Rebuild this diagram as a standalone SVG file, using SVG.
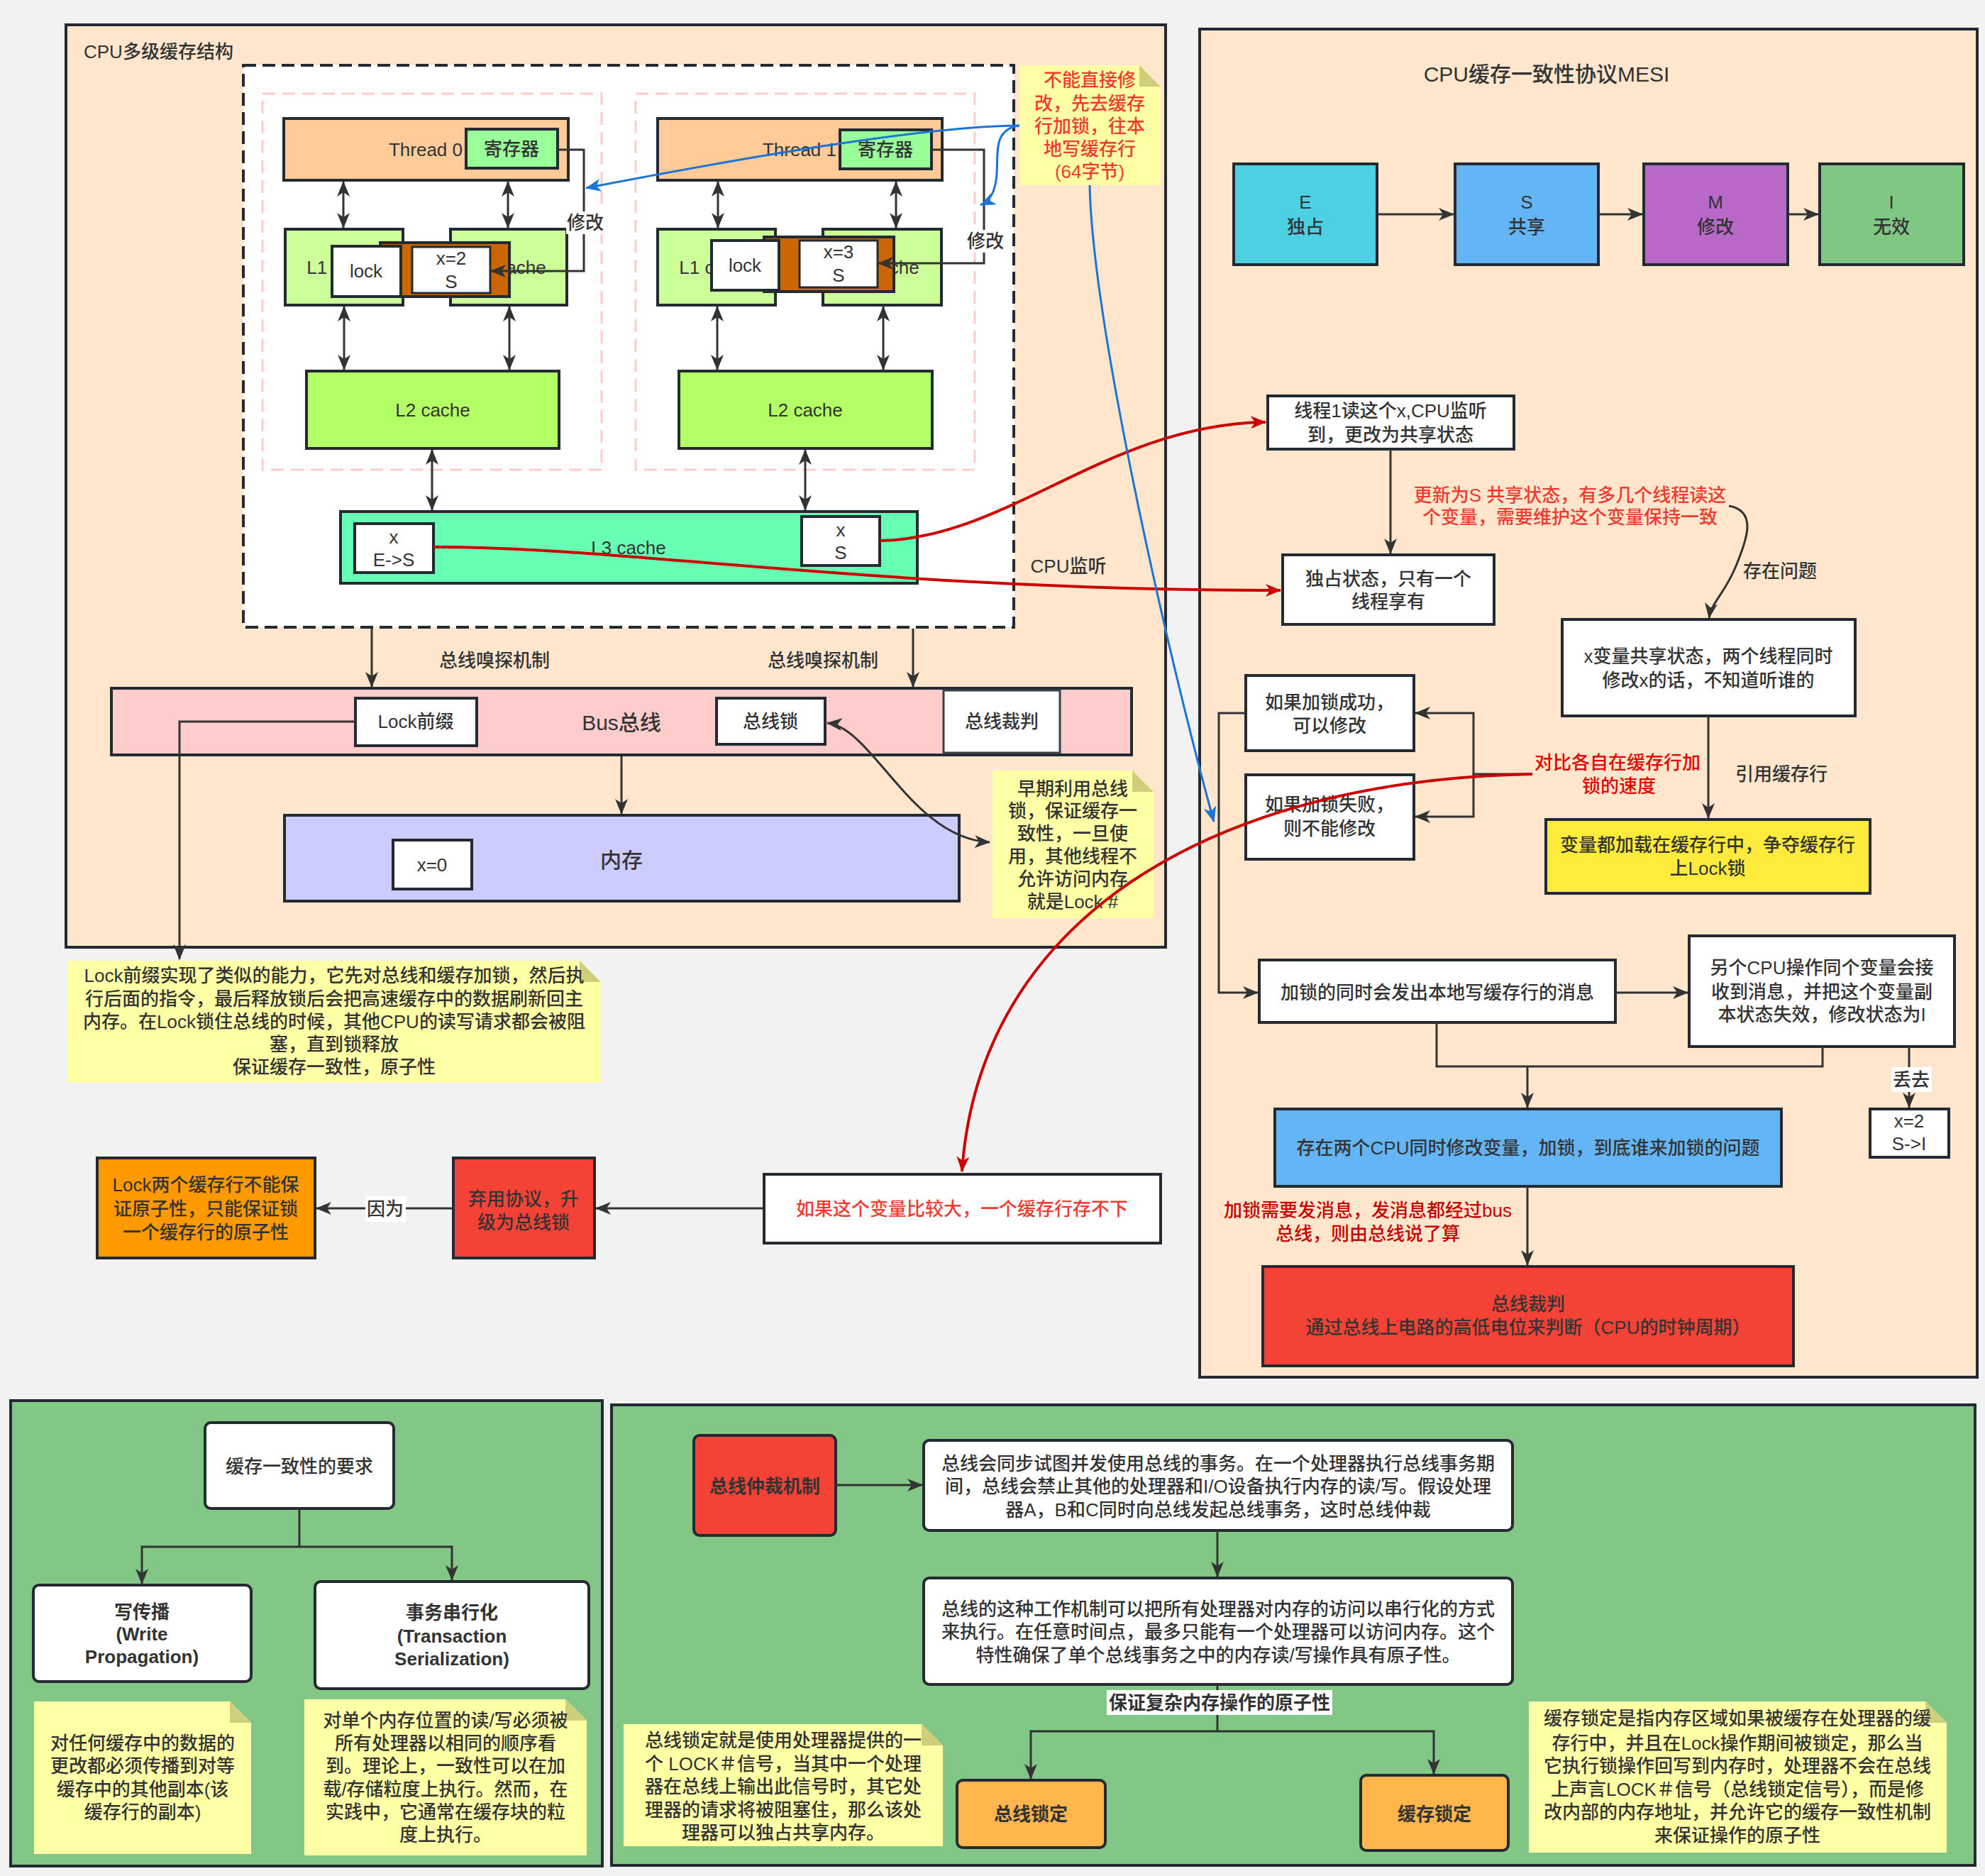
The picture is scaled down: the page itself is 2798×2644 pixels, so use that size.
<svg xmlns="http://www.w3.org/2000/svg" width="2798" height="2644" viewBox="0 0 2798 2644">
<defs>
<style>
.b{stroke:#232a31;stroke-width:4}
.t{font-family:'Liberation Sans','Noto Sans CJK SC',sans-serif;font-size:26px;font-weight:500;fill:#333;text-anchor:middle;dominant-baseline:central}
.big{font-size:30px}
.bold{font-weight:700}
.red{fill:#f23a30}
.dred{fill:#c80000}
.c{fill:none;stroke:#333;stroke-width:3}
.cr{fill:none;stroke:#cc0000;stroke-width:4}
.cb{fill:none;stroke:#1b74d6;stroke-width:3}
.note{fill:#ffffa6}
.fold{fill:#cfcf7b}
.w{fill:#fff}
</style>
<marker id="a" viewBox="0 0 22 18" refX="21" refY="9" markerWidth="22" markerHeight="18" markerUnits="userSpaceOnUse" orient="auto-start-reverse"><path d="M0,0 L22,9 L0,18 L6,9 Z" fill="#333"/></marker>
<marker id="ar" viewBox="0 0 22 18" refX="21" refY="9" markerWidth="22" markerHeight="18" markerUnits="userSpaceOnUse" orient="auto-start-reverse"><path d="M0,0 L22,9 L0,18 L6,9 Z" fill="#cc0000"/></marker>
<marker id="ab" viewBox="0 0 22 18" refX="21" refY="9" markerWidth="22" markerHeight="18" markerUnits="userSpaceOnUse" orient="auto-start-reverse"><path d="M0,0 L22,9 L0,18 L6,9 Z" fill="#1b74d6"/></marker>
</defs>
<rect x="0" y="0" width="2798" height="2644" fill="#f2f2f2"/>

<!-- containers -->
<g id="panel-cpu-cache">
<rect class="b" x="93" y="35" width="1550" height="1300" fill="#ffe6cc"/>
<text class="t" x="118" y="73" style="text-anchor:start">CPU多级缓存结构</text>
<rect x="343" y="92" width="1086" height="792" fill="#fff" stroke="#232a31" stroke-width="4" stroke-dasharray="18 9"/>
<rect x="370" y="132" width="478" height="530" fill="none" stroke="#ffcccc" stroke-width="3" stroke-dasharray="18 10"/>
<rect x="896" y="132" width="478" height="530" fill="none" stroke="#ffcccc" stroke-width="3" stroke-dasharray="18 10"/>
</g>
<g id="panel-mesi">
<rect class="b" x="1691" y="41" width="1096" height="1900" fill="#ffe6cc"/>
<text class="t big" x="2180" y="104">CPU缓存一致性协议MESI</text>
</g>
<g id="panel-requirements">
<rect class="b" x="15" y="1974" width="834" height="656" fill="#82c785"/>
</g>
<g id="panel-arbitration">
<rect class="b" x="862" y="1980" width="1922" height="649" fill="#82c785"/>
</g>

<!-- thread 0 -->
<g id="thread0">
<rect class="b" x="400" y="167" width="401" height="87" fill="#ffcc99"/>
<text class="t" x="600" y="211">Thread 0</text>
<rect class="b" x="657" y="182" width="129" height="55" fill="#99ff99"/>
<text class="t" x="721" y="210">寄存器</text>
</g>
<g id="l1-0">
<rect class="b" x="402" y="323" width="166" height="107" fill="#ccff99"/>
<text class="t" x="485" y="377">L1 cache</text>
<rect class="b" x="635" y="323" width="164" height="107" fill="#ccff99"/>
<text class="t" x="717" y="377">L1 cache</text>
<rect class="b" x="536" y="342" width="182" height="76" fill="#cc6600"/>
<rect x="581" y="348" width="110" height="65" fill="#fff" stroke="#232a31" stroke-width="3"/>
<text class="t" x="636" y="364">x=2</text>
<text class="t" x="636" y="397">S</text>
<rect class="b" x="468" y="347" width="97" height="71" fill="#fff"/>
<text class="t" x="516" y="382">lock</text>
</g>
<g id="l2-0">
<rect class="b" x="432" y="523" width="356" height="109" fill="#b3ff66"/>
<text class="t" x="610" y="578">L2 cache</text>
</g>

<!-- thread 1 -->
<g id="thread1">
<rect class="b" x="927" y="167" width="401" height="87" fill="#ffcc99"/>
<text class="t" x="1127" y="211">Thread 1</text>
<rect class="b" x="1184" y="183" width="129" height="55" fill="#99ff99"/>
<text class="t" x="1248" y="211">寄存器</text>
</g>
<g id="l1-1">
<rect class="b" x="927" y="323" width="166" height="107" fill="#ccff99"/>
<text class="t" x="1010" y="377">L1 cache</text>
<rect class="b" x="1160" y="323" width="167" height="107" fill="#ccff99"/>
<text class="t" x="1243" y="377">L1 cache</text>
<rect class="b" x="1077" y="334" width="183" height="77" fill="#cc6600"/>
<rect x="1127" y="339" width="110" height="66" fill="#fff" stroke="#232a31" stroke-width="3"/>
<text class="t" x="1182" y="355">x=3</text>
<text class="t" x="1182" y="388">S</text>
<rect class="b" x="1003" y="339" width="95" height="70" fill="#fff"/>
<text class="t" x="1050" y="374">lock</text>
</g>
<g id="l2-1">
<rect class="b" x="957" y="523" width="357" height="109" fill="#b3ff66"/>
<text class="t" x="1135" y="578">L2 cache</text>
</g>

<g id="l3">
<rect class="b" x="480" y="721" width="813" height="101" fill="#66ffb3"/>
<text class="t" x="886" y="772">L3 cache</text>
<rect class="b" x="500" y="738" width="111" height="69" fill="#fff"/>
<text class="t" x="555" y="757">x</text>
<text class="t" x="555" y="789">E-&gt;S</text>
<rect class="b" x="1130" y="728" width="110" height="69" fill="#fff"/>
<text class="t" x="1185" y="747">x</text>
<text class="t" x="1185" y="779">S</text>
</g>

<g id="bus">
<rect class="b" x="157" y="970" width="1438" height="94" fill="#ffcccc"/>
<text class="t big" x="876" y="1018">Bus总线</text>
<rect class="b" x="501" y="984" width="171" height="67" fill="#fff"/>
<text class="t" x="586" y="1017">Lock前缀</text>
<rect class="b" x="1010" y="984" width="153" height="65" fill="#fff"/>
<text class="t" x="1086" y="1017">总线锁</text>
<rect x="1330" y="973" width="164" height="88" fill="#fff" stroke="#3a4048" stroke-width="3"/>
<text class="t" x="1412" y="1017">总线裁判</text>
</g>
<g id="memory">
<rect class="b" x="401" y="1149" width="951" height="121" fill="#ccccff"/>
<text class="t big" x="876" y="1212">内存</text>
<rect class="b" x="554" y="1184" width="111" height="69" fill="#fff"/>
<text class="t" x="609" y="1219">x=0</text>
</g>

<g id="note-no-direct">
<path class="note" d="M1437,92 H1606 L1636,122 V261 H1437 Z"/>
<path class="fold" d="M1606,92 V122 H1636 Z"/>
<text class="t red" x="1536" y="113">不能直接修</text>
<text class="t red" x="1536" y="146">改，先去缓存</text>
<text class="t red" x="1536" y="178">行加锁，往本</text>
<text class="t red" x="1536" y="210">地写缓存行</text>
<text class="t red" x="1536" y="242">(64字节)</text>
</g>
<g id="note-early-bus-lock">
<path class="note" d="M1399,1086 H1596 L1626,1116 V1294 H1399 Z"/>
<path class="fold" d="M1596,1086 V1116 H1626 Z"/>
<text class="t" x="1512" y="1112">早期利用总线</text>
<text class="t" x="1512" y="1143">锁，保证缓存一</text>
<text class="t" x="1512" y="1175">致性，一旦使</text>
<text class="t" x="1512" y="1207">用，其他线程不</text>
<text class="t" x="1512" y="1239">允许访问内存</text>
<text class="t" x="1512" y="1271">就是Lock #</text>
</g>
<g id="note-lock-prefix">
<path class="note" d="M95,1354 H817 L847,1384 V1526 H95 Z"/>
<path class="fold" d="M817,1354 V1384 H847 Z"/>
<text class="t" x="471" y="1375">Lock前缀实现了类似的能力，它先对总线和缓存加锁，然后执</text>
<text class="t" x="471" y="1408">行后面的指令，最后释放锁后会把高速缓存中的数据刷新回主</text>
<text class="t" x="471" y="1440">内存。在Lock锁住总线的时候，其他CPU的读写请求都会被阻</text>
<text class="t" x="471" y="1472">塞，直到锁释放</text>
<text class="t" x="471" y="1504">保证缓存一致性，原子性</text>
</g>

<g id="lock-two-lines">
<rect class="b" x="137" y="1632" width="307" height="141" fill="#ff9900"/>
<text class="t" x="290" y="1670">Lock两个缓存行不能保</text>
<text class="t" x="290" y="1704">证原子性，只能保证锁</text>
<text class="t" x="290" y="1737">一个缓存行的原子性</text>
</g>
<g id="abandon-protocol">
<rect class="b" x="639" y="1632" width="199" height="141" fill="#f44336"/>
<text class="t" x="738" y="1690">弃用协议，升</text>
<text class="t" x="738" y="1723">级为总线锁</text>
</g>
<g id="too-large">
<rect class="b" x="1077" y="1655" width="559" height="97" fill="#fff"/>
<text class="t red" x="1356" y="1704">如果这个变量比较大，一个缓存行存不下</text>
</g>

<!-- MESI -->
<g id="mesi-e"><rect class="b" x="1739" y="231" width="202" height="142" fill="#4dd0e1"/><text class="t" x="1840" y="285">E</text><text class="t" x="1840" y="320">独占</text></g>
<g id="mesi-s"><rect class="b" x="2051" y="231" width="202" height="142" fill="#64b5f6"/><text class="t" x="2152" y="285">S</text><text class="t" x="2152" y="320">共享</text></g>
<g id="mesi-m"><rect class="b" x="2317" y="231" width="203" height="142" fill="#ba68c8"/><text class="t" x="2418" y="285">M</text><text class="t" x="2418" y="320">修改</text></g>
<g id="mesi-i"><rect class="b" x="2565" y="231" width="203" height="142" fill="#81c784"/><text class="t" x="2666" y="285">I</text><text class="t" x="2666" y="320">无效</text></g>

<g id="read-shared"><rect class="b" x="1787" y="558" width="347" height="75" fill="#fff"/><text class="t" x="1960" y="579">线程1读这个x,CPU监听</text><text class="t" x="1960" y="613">到，更改为共享状态</text></g>
<g id="exclusive"><rect class="b" x="1808" y="782" width="298" height="98" fill="#fff"/><text class="t" x="1957" y="816">独占状态，只有一个</text><text class="t" x="1957" y="848">线程享有</text></g>
<g id="shared-problem"><rect class="b" x="2202" y="873" width="413" height="136" fill="#fff"/><text class="t" x="2408" y="925">x变量共享状态，两个线程同时</text><text class="t" x="2408" y="959">修改x的话，不知道听谁的</text></g>
<g id="cache-line-lock"><rect class="b" x="2179" y="1155" width="457" height="104" fill="#ffeb3b"/><text class="t" x="2407" y="1191">变量都加载在缓存行中，争夺缓存行</text><text class="t" x="2407" y="1224">上Lock锁</text></g>
<g id="lock-success"><rect class="b" x="1756" y="952" width="237" height="106" fill="#fff"/><text class="t" x="1874" y="990">如果加锁成功，</text><text class="t" x="1874" y="1023">可以修改</text></g>
<g id="lock-fail"><rect class="b" x="1756" y="1092" width="237" height="119" fill="#fff"/><text class="t" x="1874" y="1134">如果加锁失败，</text><text class="t" x="1874" y="1168">则不能修改</text></g>
<g id="send-msg"><rect class="b" x="1775" y="1353" width="502" height="88" fill="#fff"/><text class="t" x="2026" y="1399">加锁的同时会发出本地写缓存行的消息</text></g>
<g id="other-cpu"><rect class="b" x="2381" y="1319" width="374" height="156" fill="#fff"/><text class="t" x="2568" y="1364">另个CPU操作同个变量会接</text><text class="t" x="2568" y="1398">收到消息，并把这个变量副</text><text class="t" x="2568" y="1430">本状态失效，修改状态为I</text></g>
<g id="x2-invalid"><rect class="b" x="2636" y="1563" width="111" height="68" fill="#fff"/><text class="t" x="2691" y="1580">x=2</text><text class="t" x="2691" y="1612">S-&gt;I</text></g>
<g id="two-cpu"><rect class="b" x="1797" y="1563" width="714" height="109" fill="#64b5f6"/><text class="t" x="2154" y="1618">存在两个CPU同时修改变量，加锁，到底谁来加锁的问题</text></g>
<g id="bus-arbiter"><rect class="b" x="1780" y="1785" width="748" height="140" fill="#f44336"/><text class="t" x="2154" y="1838">总线裁判</text><text class="t" x="2154" y="1871">通过总线上电路的高低电位来判断（CPU的时钟周期）</text></g>

<!-- bottom left -->
<g id="req"><rect class="b" x="289" y="2005" width="266" height="121" rx="8" fill="#fff"/><text class="t" x="422" y="2067">缓存一致性的要求</text></g>
<g id="write-prop"><rect class="b" x="47" y="2234" width="307" height="136" rx="8" fill="#fff"/><text class="t bold" x="200" y="2272">写传播</text><text class="t bold" x="200" y="2303">(Write</text><text class="t bold" x="200" y="2335">Propagation)</text></g>
<g id="tx-serial"><rect class="b" x="444" y="2229" width="386" height="151" rx="8" fill="#fff"/><text class="t bold" x="637" y="2273">事务串行化</text><text class="t bold" x="637" y="2306">(Transaction</text><text class="t bold" x="637" y="2338">Serialization)</text></g>
<g id="note-write-prop">
<path class="note" d="M48,2398 H324 L354,2428 V2613 H48 Z"/><path class="fold" d="M324,2398 V2428 H354 Z"/>
<text class="t" x="201" y="2457">对任何缓存中的数据的</text>
<text class="t" x="201" y="2489">更改都必须传播到对等</text>
<text class="t" x="201" y="2522">缓存中的其他副本(该</text>
<text class="t" x="201" y="2554">缓存行的副本)</text>
</g>
<g id="note-tx-serial">
<path class="note" d="M429,2395 H797 L827,2425 V2615 H429 Z"/><path class="fold" d="M797,2395 V2425 H827 Z"/>
<text class="t" x="628" y="2425">对单个内存位置的读/写必须被</text>
<text class="t" x="628" y="2457">所有处理器以相同的顺序看</text>
<text class="t" x="628" y="2489">到。理论上，一致性可以在加</text>
<text class="t" x="628" y="2522">载/存储粒度上执行。然而，在</text>
<text class="t" x="628" y="2554">实践中，它通常在缓存块的粒</text>
<text class="t" x="628" y="2586">度上执行。</text>
</g>

<!-- bottom right -->
<g id="arb-mech"><rect class="b" x="978" y="2023" width="200" height="141" rx="8" fill="#f44336"/><text class="t bold" x="1078" y="2095">总线仲裁机制</text></g>
<g id="arb-desc1"><rect class="b" x="1302" y="2030" width="830" height="127" rx="8" fill="#fff"/>
<text class="t" x="1717" y="2063">总线会同步试图并发使用总线的事务。在一个处理器执行总线事务期</text>
<text class="t" x="1717" y="2095">间，总线会禁止其他的处理器和I/O设备执行内存的读/写。假设处理</text>
<text class="t" x="1717" y="2128">器A，B和C同时向总线发起总线事务，这时总线仲裁</text></g>
<g id="arb-desc2"><rect class="b" x="1302" y="2224" width="830" height="150" rx="8" fill="#fff"/>
<text class="t" x="1717" y="2268">总线的这种工作机制可以把所有处理器对内存的访问以串行化的方式</text>
<text class="t" x="1717" y="2300">来执行。在任意时间点，最多只能有一个处理器可以访问内存。这个</text>
<text class="t" x="1717" y="2333">特性确保了单个总线事务之中的内存读/写操作具有原子性。</text></g>
<g id="bus-locking"><rect class="b" x="1349" y="2509" width="209" height="95" rx="8" fill="#ffb74d"/><text class="t bold" x="1453" y="2557">总线锁定</text></g>
<g id="cache-locking"><rect class="b" x="1918" y="2502" width="208" height="106" rx="8" fill="#ffb74d"/><text class="t bold" x="2022" y="2557">缓存锁定</text></g>
<g id="note-bus-locking">
<path class="note" d="M879,2430 H1299 L1329,2460 V2602 H879 Z"/><path class="fold" d="M1299,2430 V2460 H1329 Z"/>
<text class="t" x="1104" y="2453">总线锁定就是使用处理器提供的一</text>
<text class="t" x="1104" y="2486">个 LOCK＃信号，当其中一个处理</text>
<text class="t" x="1104" y="2518">器在总线上输出此信号时，其它处</text>
<text class="t" x="1104" y="2551">理器的请求将被阻塞住，那么该处</text>
<text class="t" x="1104" y="2583">理器可以独占共享内存。</text>
</g>
<g id="note-cache-locking">
<path class="note" d="M2155,2398 H2714 L2744,2428 V2611 H2155 Z"/><path class="fold" d="M2714,2398 V2428 H2744 Z"/>
<text class="t" x="2449" y="2422">缓存锁定是指内存区域如果被缓存在处理器的缓</text>
<text class="t" x="2449" y="2457">存行中，并且在Lock操作期间被锁定，那么当</text>
<text class="t" x="2449" y="2489">它执行锁操作回写到内存时，处理器不会在总线</text>
<text class="t" x="2449" y="2522">上声言LOCK＃信号（总线锁定信号），而是修</text>
<text class="t" x="2449" y="2554">改内部的内存地址，并允许它的缓存一致性机制</text>
<text class="t" x="2449" y="2587">来保证操作的原子性</text>
</g>

<!-- connectors -->
<g id="connectors">
<path class="c" d="M484,256 V321" marker-start="url(#a)" marker-end="url(#a)"/>
<path class="c" d="M716,256 V321" marker-start="url(#a)" marker-end="url(#a)"/>
<path class="c" d="M485,432 V521" marker-start="url(#a)" marker-end="url(#a)"/>
<path class="c" d="M718,432 V521" marker-start="url(#a)" marker-end="url(#a)"/>
<path class="c" d="M1012,256 V321" marker-start="url(#a)" marker-end="url(#a)"/>
<path class="c" d="M1263,256 V321" marker-start="url(#a)" marker-end="url(#a)"/>
<path class="c" d="M1011,432 V521" marker-start="url(#a)" marker-end="url(#a)"/>
<path class="c" d="M1245,432 V521" marker-start="url(#a)" marker-end="url(#a)"/>
<path class="c" d="M609,634 V719" marker-start="url(#a)" marker-end="url(#a)"/>
<path class="c" d="M1135,634 V719" marker-start="url(#a)" marker-end="url(#a)"/>
<path class="c" d="M786,211 H823 V382 H692" marker-end="url(#a)"/>
<path class="c" d="M1313,211 H1387 V371 H1238" marker-end="url(#a)"/>
<path class="c" d="M524,886 V968" marker-end="url(#a)"/>
<path class="c" d="M1287,886 V968" marker-end="url(#a)"/>
<path class="c" d="M876,1066 V1147" marker-end="url(#a)"/>
<path class="c" d="M501,1017 H253 V1352" marker-end="url(#a)"/>
<path class="c" d="M1166,1019 C1230,1025 1285,1182 1395,1187" marker-start="url(#a)" marker-end="url(#a)"/>
<path class="c" d="M1077,1703 H840" marker-end="url(#a)"/>
<path class="c" d="M639,1703 H446" marker-end="url(#a)"/>
<path class="c" d="M1941,302 H2049" marker-end="url(#a)"/>
<path class="c" d="M2253,302 H2315" marker-end="url(#a)"/>
<path class="c" d="M2520,302 H2563" marker-end="url(#a)"/>
<path class="c" d="M1960,633 V780" marker-end="url(#a)"/>
<path class="c" d="M2437,713 C2478,720 2462,762 2446,800 C2431,836 2412,850 2409,871" marker-end="url(#a)"/>
<path class="c" d="M2408,1009 V1153" marker-end="url(#a)"/>
<path class="c" d="M2160,1091 H2077 V1005 H1995" marker-end="url(#a)"/>
<path class="c" d="M2077,1091 V1151 H1995" marker-end="url(#a)"/>
<path class="c" d="M1756,1005 H1718 V1399 H1773" marker-end="url(#a)"/>
<path class="c" d="M2277,1399 H2379" marker-end="url(#a)"/>
<path class="c" d="M2691,1475 V1561" marker-end="url(#a)"/>
<path class="c" d="M2025,1441 V1503 H2569 V1475"/>
<path class="c" d="M2153,1503 V1561" marker-end="url(#a)"/>
<path class="c" d="M2153,1672 V1783" marker-end="url(#a)"/>
<path class="c" d="M422,2126 V2180 H200 V2232" marker-end="url(#a)"/>
<path class="c" d="M422,2180 H637 V2227" marker-end="url(#a)"/>
<path class="c" d="M1178,2093 H1300" marker-end="url(#a)"/>
<path class="c" d="M1716,2157 V2222" marker-end="url(#a)"/>
<path class="c" d="M1716,2374 V2440 H1453 V2507" marker-end="url(#a)"/>
<path class="c" d="M1716,2440 H2021 V2500" marker-end="url(#a)"/>
<path class="cr" d="M1240,762 C1420,760 1560,598 1784,595" marker-end="url(#ar)"/>
<path class="cr" d="M611,771 C880,770 1230,832 1805,832" marker-end="url(#ar)"/>
<path class="cr" d="M2160,1091 C1700,1100 1380,1300 1356,1651" marker-end="url(#ar)"/>
<path class="cb" d="M1437,177 C1300,178 1050,222 826,265" marker-end="url(#ab)"/>
<path class="cb" d="M1437,177 C1400,182 1407,215 1405,245 C1403,272 1395,283 1382,289" marker-end="url(#ab)"/>
<path class="cb" d="M1536,261 C1540,450 1640,900 1711,1158" marker-end="url(#ab)"/>
</g>

<!-- connector labels -->
<g id="labels">
<rect class="w" x="798" y="298" width="56" height="32"/><text class="t" x="825" y="314">修改</text>
<rect class="w" x="1361" y="324" width="56" height="32"/><text class="t" x="1389" y="340">修改</text>
<text class="t" x="697" y="931">总线嗅探机制</text>
<text class="t" x="1160" y="931">总线嗅探机制</text>
<text class="t" x="1506" y="798">CPU监听</text>
<rect class="w" x="515" y="1686" width="57" height="36"/><text class="t" x="543" y="1704">因为</text>
<text class="t red" x="2213" y="698">更新为S 共享状态，有多几个线程读这</text>
<text class="t red" x="2213" y="729">个变量，需要维护这个变量保持一致</text>
<text class="t" x="2509" y="805">存在问题</text>
<text class="t" x="2511" y="1091">引用缓存行</text>
<text class="t" x="2280" y="1075" style="fill:#e60000">对比各自在缓存行加</text>
<text class="t" x="2282" y="1108" style="fill:#e60000">锁的速度</text>
<rect class="w" x="2666" y="1504" width="57" height="35"/><text class="t" x="2694" y="1522">丢去</text>
<text class="t dred" x="1928" y="1706">加锁需要发消息，发消息都经过bus</text>
<text class="t dred" x="1928" y="1739">总线，则由总线说了算</text>
<rect class="w" x="1560" y="2382" width="318" height="35"/><text class="t bold" x="1719" y="2400">保证复杂内存操作的原子性</text>
</g>
</svg>
